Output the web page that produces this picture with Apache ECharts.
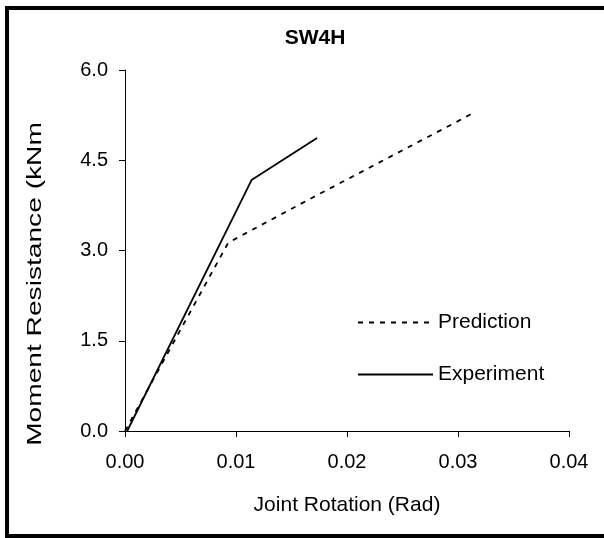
<!DOCTYPE html>
<html>
<head>
<meta charset="utf-8">
<script src="https://cdn.jsdelivr.net/npm/echarts@6/dist/echarts.min.js"></script>
<style>
html,body{margin:0;padding:0;background:#fff;}
#chart{width:604px;height:538px;}
</style>
</head>
<body>
<div id="chart"></div>
<script>
var titleText = 'SW4H';
var xAxisName = 'Joint Rotation (Rad)';
var yAxisName = 'Moment Resistance (kNm';
var predictionName = 'Prediction';
var experimentName = 'Experiment';
var predictionX = [0.0000, 0.0093, 0.0170, 0.0300, 0.0315];
var predictionY = [0.00, 3.13, 3.89, 5.15, 5.30];
var experimentX = [0.0002, 0.0114, 0.0173];
var experimentY = [0.00, 4.17, 4.87];

function pairs(xs, ys){ return xs.map(function(x,i){ return [x, ys[i]]; }); }

var font = '"Liberation Sans", Arial, sans-serif';
var chart = echarts.init(document.getElementById('chart'), null, {renderer:'canvas'});
chart.setOption({
  backgroundColor: '#ffffff',
  animation: false,
  title: {
    text: titleText, left: 310, top: 23, textAlign: 'center',
    textStyle: {fontFamily: font, fontSize: 21, fontWeight: 'bold', color: '#000'}
  },
  grid: {left: 125, right: 35, top: 70, bottom: 107},
  legend: {
    orient: 'vertical', left: 352, top: 307,
    itemWidth: 75, itemHeight: 21, itemGap: 31,
    data: [predictionName, experimentName],
    itemStyle: {opacity: 0},
    textStyle: {fontFamily: font, fontSize: 21, lineHeight: 21, color: '#000'}
  },
  xAxis: {
    type: 'value', min: 0, max: 0.04, interval: 0.01,
    name: xAxisName, nameLocation: 'middle', nameGap: 64,
    nameTextStyle: {fontFamily: font, fontSize: 21, color: '#000'},
    axisLine: {show: true, lineStyle: {color: '#000', width: 1}},
    axisTick: {show: true, inside: false, length: 6, lineStyle: {color: '#000'}},
    axisLabel: {fontFamily: font, fontSize: 20, color: '#000', margin: 21,
      formatter: function(v){ return v.toFixed(2); }},
    splitLine: {show: false}
  },
  yAxis: {
    type: 'value', min: 0, max: 6, interval: 1.5,
    axisLine: {show: true, lineStyle: {color: '#000', width: 1}},
    axisTick: {show: true, inside: false, length: 6, lineStyle: {color: '#000'}},
    axisLabel: {fontFamily: font, fontSize: 20, color: '#000', margin: 17,
      formatter: function(v){ return v.toFixed(1); }},
    splitLine: {show: false}
  },
  graphic: [
    {type: 'text', x: 35, y: 284, rotation: Math.PI/2, scaleX: 1.34,
     style: {text: yAxisName, fontFamily: font, fontSize: 21, fill: '#000', align: 'center', verticalAlign: 'middle'}},
    {type: 'rect', shape: {x: 5, y: 6, width: 4, height: 532}, style: {fill: '#000'}},
    {type: 'rect', shape: {x: 5, y: 6, width: 599, height: 4}, style: {fill: '#000'}},
    {type: 'rect', shape: {x: 5, y: 534, width: 599, height: 4}, style: {fill: '#000'}}
  ],
  series: [
    {
      name: predictionName, type: 'line', data: pairs(predictionX, predictionY),
      symbol: 'none', lineStyle: {color: '#000', width: 1.8, type: [5, 6]},
      itemStyle: {color: '#000'}
    },
    {
      name: experimentName, type: 'line', data: pairs(experimentX, experimentY),
      symbol: 'none', lineStyle: {color: '#000', width: 1.8, type: 'solid'},
      itemStyle: {color: '#000'}
    }
  ]
});
</script>
</body>
</html>
